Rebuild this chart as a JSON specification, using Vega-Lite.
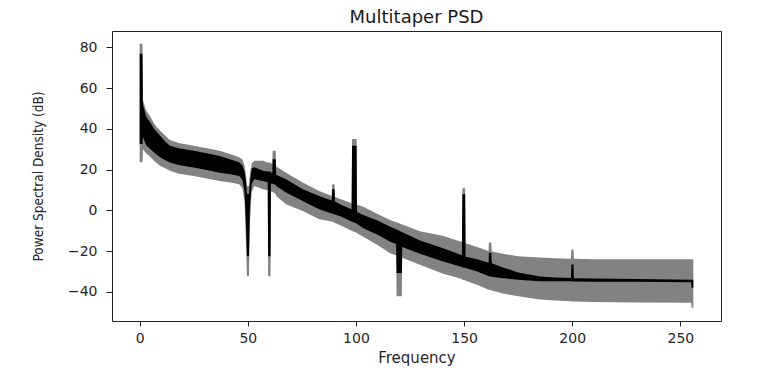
{
  "$schema": "https://vega.github.io/schema/vega-lite/v6.json",
  "autosize": {"type": "none"},
  "padding": {"left": 112, "top": 31, "right": 44, "bottom": 67},
  "width": 609,
  "height": 290,
  "title": {"text": "Multitaper PSD", "font": "DejaVu Sans", "fontSize": 18, "fontWeight": "normal", "color": "#1a1a1a", "offset": 4},
  "config": {
    "view": {"stroke": "#222222", "strokeWidth": 1},
    "axis": {
      "grid": false, "domain": false, "tickColor": "#222222",
      "labelFont": "DejaVu Sans", "labelFontSize": 14, "labelColor": "#262626",
      "titleFontWeight": "normal", "titleColor": "#262626"
    }
  },
  "data": {"values": [
    {"f": 0, "hi": 81.8, "bhi": 76.8, "blo": 32.5, "lo": 23.6},
    {"f": 1.3, "hi": 81.8, "bhi": 76.8, "blo": 32.5, "lo": 23.6},
    {"f": 1.5, "hi": 54, "bhi": 52, "blo": 36, "lo": 30},
    {"f": 3, "hi": 49, "bhi": 46, "blo": 32, "lo": 28},
    {"f": 5, "hi": 45.8, "bhi": 43, "blo": 30, "lo": 26},
    {"f": 7, "hi": 42, "bhi": 39.5, "blo": 28, "lo": 24},
    {"f": 9.5, "hi": 39, "bhi": 36.6, "blo": 26, "lo": 21.8},
    {"f": 12, "hi": 36.5, "bhi": 33.5, "blo": 24.5, "lo": 20.5},
    {"f": 14, "hi": 34.5, "bhi": 31.7, "blo": 23.5, "lo": 19.4},
    {"f": 18, "hi": 33, "bhi": 30.5, "blo": 22.3, "lo": 18},
    {"f": 25, "hi": 31.7, "bhi": 29.2, "blo": 21, "lo": 16.9},
    {"f": 31, "hi": 30.5, "bhi": 28, "blo": 19.8, "lo": 15.6},
    {"f": 37, "hi": 29.2, "bhi": 26.7, "blo": 18.5, "lo": 14.4},
    {"f": 42, "hi": 27.5, "bhi": 25, "blo": 17.7, "lo": 13.6},
    {"f": 46, "hi": 26, "bhi": 23.6, "blo": 16.9, "lo": 12.8},
    {"f": 47.5, "hi": 25, "bhi": 22, "blo": 15, "lo": 11},
    {"f": 48.5, "hi": 22, "bhi": 19, "blo": 9, "lo": 4},
    {"f": 49.2, "hi": 17, "bhi": 14, "blo": -8, "lo": -18},
    {"f": 49.6, "hi": 12, "bhi": 8, "blo": -22.5, "lo": -32.4},
    {"f": 50.5, "hi": 12, "bhi": 8, "blo": -22.5, "lo": -32.4},
    {"f": 51, "hi": 18, "bhi": 14, "blo": 2, "lo": -6},
    {"f": 51.8, "hi": 23, "bhi": 20.5, "blo": 13, "lo": 9},
    {"f": 53, "hi": 24.3, "bhi": 21.2, "blo": 15.3, "lo": 12},
    {"f": 57, "hi": 24.3, "bhi": 19.4, "blo": 14.4, "lo": 10.3},
    {"f": 59.2, "hi": 23.5, "bhi": 19, "blo": 13.8, "lo": 9.8},
    {"f": 59.4, "hi": 23.5, "bhi": 19, "blo": -22.5, "lo": -32.4},
    {"f": 60.5, "hi": 23.5, "bhi": 19, "blo": -22.5, "lo": -32.4},
    {"f": 60.7, "hi": 23, "bhi": 18.5, "blo": 13.2, "lo": 9.3},
    {"f": 61.3, "hi": 23, "bhi": 18.5, "blo": 13, "lo": 9},
    {"f": 61.5, "hi": 29.2, "bhi": 25.1, "blo": 13, "lo": 9},
    {"f": 62.9, "hi": 29.2, "bhi": 25.1, "blo": 12.5, "lo": 8},
    {"f": 63.1, "hi": 21.5, "bhi": 17.5, "blo": 12, "lo": 7},
    {"f": 67.7, "hi": 18.5, "bhi": 15.3, "blo": 8.7, "lo": 3},
    {"f": 75.4, "hi": 13.6, "bhi": 10.3, "blo": 4.6, "lo": -0.3},
    {"f": 83, "hi": 9.5, "bhi": 7, "blo": 0.5, "lo": -4.4},
    {"f": 88.8, "hi": 7, "bhi": 4.8, "blo": -1.5, "lo": -5.5},
    {"f": 89, "hi": 12.8, "bhi": 10.3, "blo": -1.6, "lo": -5.6},
    {"f": 90.1, "hi": 12.8, "bhi": 10.3, "blo": -2, "lo": -6},
    {"f": 90.3, "hi": 6.6, "bhi": 4.3, "blo": -2.1, "lo": -6.2},
    {"f": 93, "hi": 5.5, "bhi": 2.8, "blo": -3, "lo": -7.5},
    {"f": 98, "hi": 3.5, "bhi": 0.5, "blo": -5.5, "lo": -10},
    {"f": 98.2, "hi": 35, "bhi": 31.7, "blo": -5.6, "lo": -10.1},
    {"f": 100.3, "hi": 35, "bhi": 31.7, "blo": -6.5, "lo": -11},
    {"f": 100.5, "hi": 2.7, "bhi": -0.8, "blo": -6.7, "lo": -11.2},
    {"f": 103.4, "hi": 1.8, "bhi": -2.3, "blo": -8.8, "lo": -13},
    {"f": 110, "hi": -1.8, "bhi": -5, "blo": -12, "lo": -17},
    {"f": 115.8, "hi": -4.8, "bhi": -8, "blo": -15.4, "lo": -21},
    {"f": 118.6, "hi": -5.8, "bhi": -9.3, "blo": -16.5, "lo": -22},
    {"f": 118.8, "hi": -5.9, "bhi": -9.4, "blo": -30.7, "lo": -42.2},
    {"f": 121.2, "hi": -6.9, "bhi": -10.6, "blo": -30.7, "lo": -42.2},
    {"f": 121.4, "hi": -7, "bhi": -10.8, "blo": -18, "lo": -23.3},
    {"f": 129.6, "hi": -10.2, "bhi": -14.8, "blo": -21.3, "lo": -26.7},
    {"f": 140, "hi": -12.5, "bhi": -18.5, "blo": -25, "lo": -31},
    {"f": 149, "hi": -15.5, "bhi": -22, "blo": -27.8, "lo": -33.7},
    {"f": 149.2, "hi": 10.8, "bhi": 7.9, "blo": -28, "lo": -34},
    {"f": 150.5, "hi": 10.8, "bhi": 7.9, "blo": -28.2, "lo": -34.3},
    {"f": 150.7, "hi": -16.2, "bhi": -22.8, "blo": -28.3, "lo": -34.5},
    {"f": 156, "hi": -18, "bhi": -24, "blo": -30, "lo": -36.5},
    {"f": 161.3, "hi": -20, "bhi": -25.7, "blo": -32.2, "lo": -39},
    {"f": 161.5, "hi": -15.8, "bhi": -20.8, "blo": -32.3, "lo": -39},
    {"f": 162.6, "hi": -15.8, "bhi": -20.8, "blo": -32.5, "lo": -39.2},
    {"f": 162.8, "hi": -20.2, "bhi": -26, "blo": -32.6, "lo": -39.3},
    {"f": 168, "hi": -21.3, "bhi": -28, "blo": -33.3, "lo": -40.8},
    {"f": 175, "hi": -22.5, "bhi": -30.5, "blo": -34, "lo": -42.2},
    {"f": 185, "hi": -23.2, "bhi": -32.5, "blo": -34.8, "lo": -43.8},
    {"f": 192, "hi": -23.5, "bhi": -33, "blo": -34.8, "lo": -44.3},
    {"f": 199.4, "hi": -23.7, "bhi": -33.2, "blo": -34.8, "lo": -44.6},
    {"f": 199.6, "hi": -19.2, "bhi": -26.6, "blo": -34.8, "lo": -44.7},
    {"f": 200.6, "hi": -19.2, "bhi": -26.6, "blo": -34.9, "lo": -44.7},
    {"f": 200.8, "hi": -23.8, "bhi": -33.3, "blo": -34.9, "lo": -44.7},
    {"f": 210, "hi": -24, "bhi": -33.5, "blo": -35, "lo": -45},
    {"f": 230, "hi": -24, "bhi": -33.7, "blo": -35.1, "lo": -45.2},
    {"f": 255, "hi": -24, "bhi": -34, "blo": -35.3, "lo": -45.3},
    {"f": 255.2, "hi": -24, "bhi": -34, "blo": -38, "lo": -47.8},
    {"f": 256, "hi": -24, "bhi": -34, "blo": -38, "lo": -47.8}
  ]},
  "encoding": {
    "x": {"field": "f", "type": "quantitative", "title": "Frequency",
      "scale": {"domain": [-12.8, 268.8], "nice": false, "zero": false},
      "axis": {"values": [0, 50, 100, 150, 200, 250], "tickSize": 5, "labelPadding": 5,
        "titleFont": "DejaVu Sans", "titleFontSize": 15, "titlePadding": 5}}
  },
  "layer": [
    {
      "mark": {"type": "area", "color": "#828282"},
      "encoding": {
        "y": {"field": "lo", "type": "quantitative", "title": "Power Spectral Density (dB)",
          "scale": {"domain": [-54.3, 88.0], "nice": false, "zero": false},
          "axis": {"values": [-40, -20, 0, 20, 40, 60, 80], "tickSize": 6, "labelPadding": 9,
            "titleFont": "DejaVu Sans Condensed, Liberation Sans Narrow, Liberation Sans",
            "titleFontSize": 13.5, "titlePadding": 22}},
        "y2": {"field": "hi"}
      }
    },
    {
      "mark": {"type": "area", "color": "#000000"},
      "encoding": {
        "y": {"field": "blo", "type": "quantitative"},
        "y2": {"field": "bhi"}
      }
    }
  ]
}
